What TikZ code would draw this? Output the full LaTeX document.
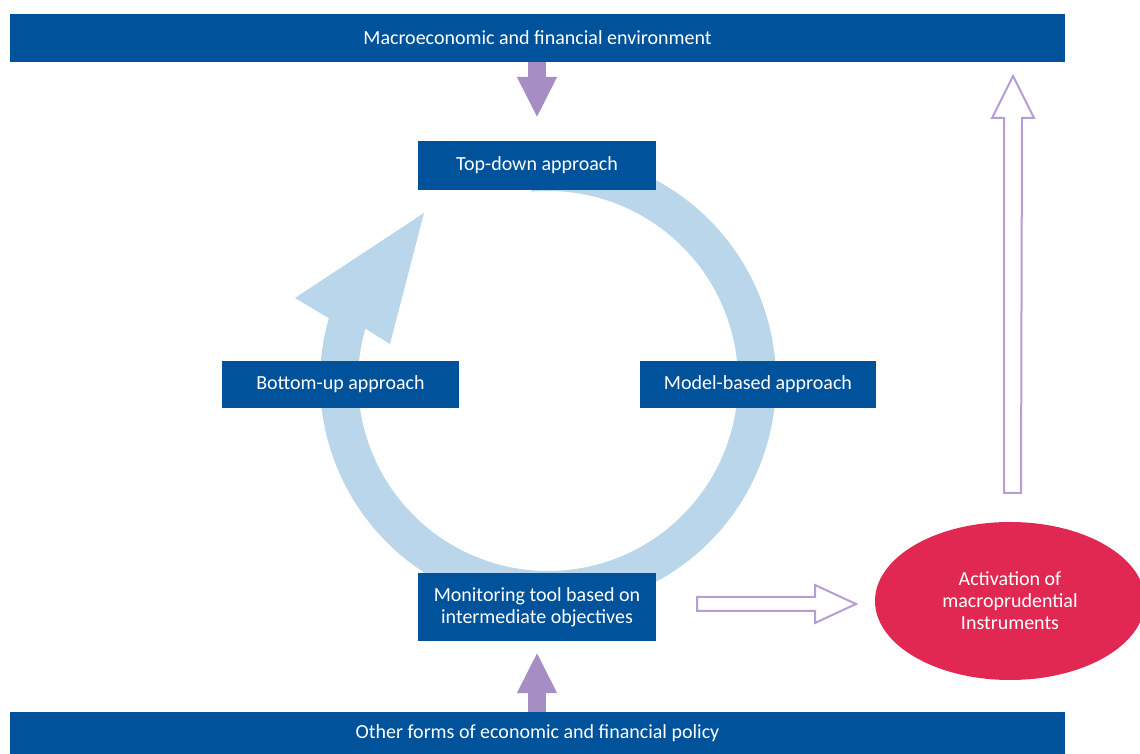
\documentclass[tikz,border=0pt]{standalone}
\usepackage{fontspec}
\setmainfont{Carlito}
\usetikzlibrary{arrows.meta,shapes.geometric}
\definecolor{dblue}{RGB}{0,82,155}
\definecolor{lblue}{RGB}{185,214,234}
\definecolor{purp}{RGB}{166,142,196}
\definecolor{lpurp}{RGB}{180,158,212}
\definecolor{redel}{RGB}{224,40,82}
\begin{document}
\begin{tikzpicture}[x=1pt,y=1pt,
  bar/.style={fill=dblue, text=white, inner sep=0pt, font=\fontsize{20}{22}\selectfont},
  box/.style={fill=dblue, text=white, inner sep=0pt, align=center, font=\fontsize{20}{22}\selectfont},
  fat/.style={draw=purp, line width=18pt, -{Triangle[width=37pt,length=41pt]}},
  hollow/.style={draw=lpurp, line width=2pt, fill=white, line join=miter},
  ring/.style={fill=lblue},
  redell/.style={ellipse, fill=redel, text=white, inner sep=0pt, align=center, font=\fontsize{20}{22}\selectfont},
]
\useasboundingbox (0,0) rectangle (1140,754);

% cycle ring with arrow head
\fill[ring] ([shift={(548,373)}]164:228) arc[start angle=164, end angle=455, radius=228]
  -- ([shift={(548,373)}]455:190) arc[start angle=455, end angle=164, radius=190]
  -- (390,410) -- (424,541) -- (295,456) -- cycle;

% bars
\node[bar, minimum width=1055pt, minimum height=48pt] (macro) at (537.5,716) {Macroeconomic and financial environment};
\node[bar, minimum width=1055pt, minimum height=42pt] (policy) at (537.5,21) {Other forms of economic and financial policy};

% boxes
\node[box, minimum width=238pt, minimum height=49pt] (td) at (537,588.5) {Top-down approach};
\node[box, minimum width=237pt, minimum height=47pt] (bu) at (340.5,369.5) {Bottom-up approach};
\node[box, minimum width=236pt, minimum height=47pt] (mb) at (758,369.5) {Model-based approach};
\node[box, minimum width=238pt, minimum height=68pt] (mon) at (537,147) {Monitoring tool based on\\intermediate objectives};

% ellipse
\node[redell, minimum width=270pt, minimum height=158pt] (act) at (1010,153) {Activation of\\macroprudential\\Instruments};

% filled purple arrows
\draw[fat, shorten >=23pt] (td.north |- macro.south) -- (td.north);
\draw[fat, shorten >=11pt] (mon.south |- policy.north) -- (mon.south);

% hollow arrows
\coordinate (hs) at (697,150);
\coordinate (vs) at (1012.5,261);
\draw[hollow] ([yshift=7pt]hs) -- ++(118,0) -- ++(0,12) -- (856,150) -- ++(-41,-19) -- ++(0,12) -- ([yshift=-7pt]hs) -- cycle;
\draw[hollow] ([xshift=-8.5pt]vs) -- ++(0,375) -- ++(-12,0) -- (1013,678) -- ++(21,-42) -- ++(-12,0) -- ([xshift=8.5pt]vs) -- cycle;
\end{tikzpicture}
\end{document}
